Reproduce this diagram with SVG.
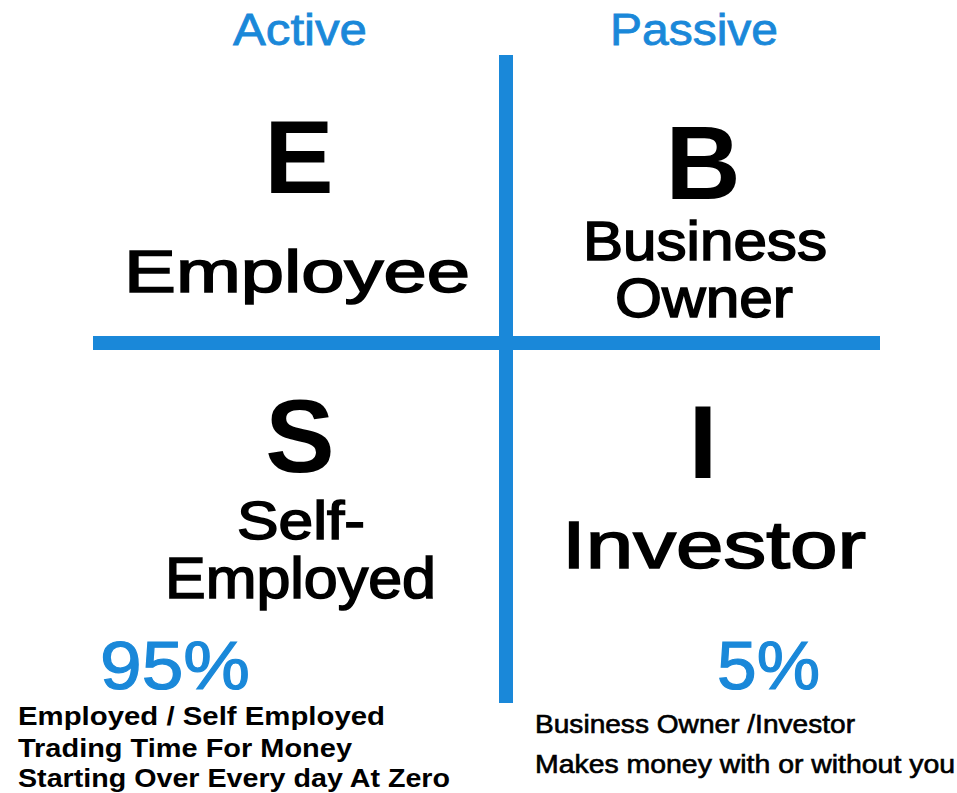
<svg xmlns="http://www.w3.org/2000/svg" width="957" height="793" viewBox="0 0 957 793">
<style>
text{font-family:"Liberation Sans",Arial,sans-serif;fill:#000}
.blue{fill:#1a88d9;stroke:#1a88d9}
.big{font-size:104px;font-weight:bold;text-anchor:middle}
.label{font-size:60px;stroke:#000;stroke-width:1.6px}
.hdr{font-size:44px;stroke-width:0.8px}
.pct{font-size:68px;stroke-width:1.2px}
.small{font-size:26px;font-weight:bold}
.rsmall{font-size:25px;stroke:#000;stroke-width:0.6px}
</style>
<rect width="957" height="793" fill="#fff"/>
<g id="axes">
<rect x="499" y="55" width="14" height="648" fill="#1a88d9"/>
<rect x="93" y="336" width="787" height="14" fill="#1a88d9"/>
</g>
<g id="headers">
<text class="hdr blue" x="233" y="45" textLength="134" lengthAdjust="spacingAndGlyphs">Active</text>
<text class="hdr blue" x="610" y="45" textLength="168" lengthAdjust="spacingAndGlyphs">Passive</text>
</g>
<g id="node-E">
<text class="big" x="299" y="193">E</text>
<text class="label" x="124" y="292" textLength="346" lengthAdjust="spacingAndGlyphs">Employee</text>
</g>
<g id="node-B">
<text class="big" x="703" y="199">B</text>
<text class="label" x="583" y="260" style="font-size:55px" textLength="244" lengthAdjust="spacingAndGlyphs">Business</text>
<text class="label" x="615" y="317" style="font-size:56px" textLength="178" lengthAdjust="spacingAndGlyphs">Owner</text>
</g>
<g id="node-S">
<text class="big" x="300" y="472">S</text>
<text class="label" x="237" y="539" style="font-size:53px" textLength="128" lengthAdjust="spacingAndGlyphs">Self-</text>
<text class="label" x="165" y="598" style="font-size:57px" textLength="271" lengthAdjust="spacingAndGlyphs">Employed</text>
</g>
<g id="node-I">
<text class="big" x="703" y="478">I</text>
<text class="label" x="562" y="568" style="font-size:66px" textLength="304" lengthAdjust="spacingAndGlyphs">Investor</text>
</g>
<g id="stats-left">
<text class="pct blue" x="100" y="689" textLength="150" lengthAdjust="spacingAndGlyphs">95%</text>
<text class="small" x="18" y="725" textLength="367" lengthAdjust="spacingAndGlyphs">Employed / Self Employed</text>
<text class="small" x="18" y="757" textLength="334" lengthAdjust="spacingAndGlyphs">Trading Time For Money</text>
<text class="small" x="18" y="787" textLength="432" lengthAdjust="spacingAndGlyphs">Starting Over Every day At Zero</text>
</g>
<g id="stats-right">
<text class="pct blue" x="717" y="689" textLength="103" lengthAdjust="spacingAndGlyphs">5%</text>
<text class="rsmall" x="535" y="733" textLength="320" lengthAdjust="spacingAndGlyphs">Business Owner /Investor</text>
<text class="rsmall" x="535" y="773" textLength="420" lengthAdjust="spacingAndGlyphs">Makes money with or without you</text>
</g>
</svg>
